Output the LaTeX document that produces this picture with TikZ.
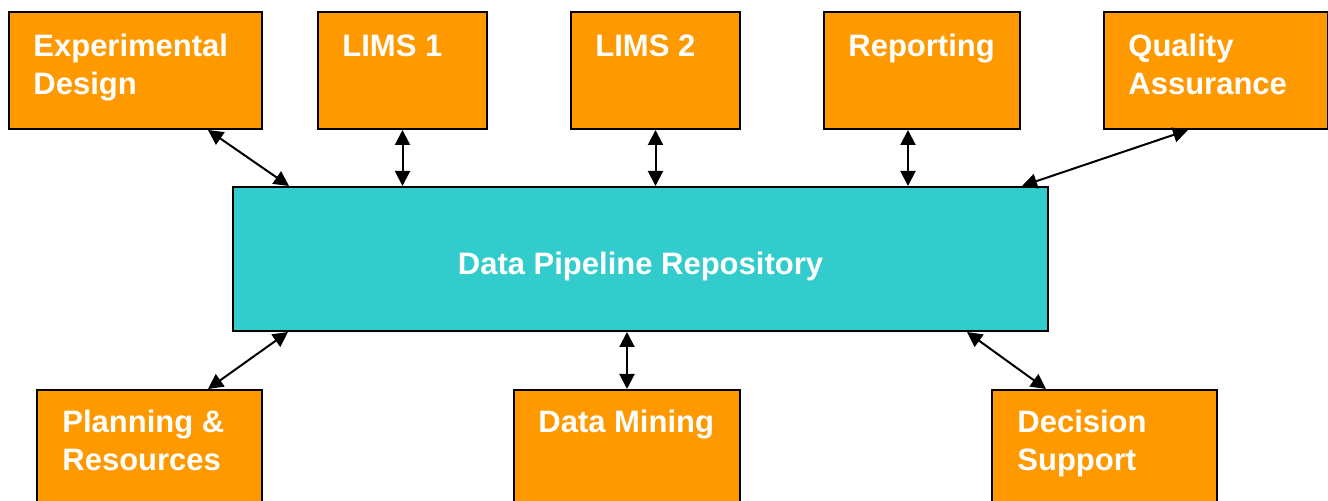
\documentclass[tikz,border=0pt]{standalone}
\usepackage{fontspec}
\setmainfont{Liberation Sans}
\usepackage{xcolor}
\usepackage{tikz}
\usetikzlibrary{arrows.meta, positioning, shadows}
\definecolor{myorange}{HTML}{FF9900}
\definecolor{myteal}{HTML}{33CCCC}
\tikzset{
srcbox/.style={
draw=black,
fill=myorange,
line width=1pt,
anchor=north west,
drop shadow={shadow xshift=0.7pt, shadow yshift=-0.7pt, fill=black!40, opacity=1},
inner sep=0pt
},
repobox/.style={
draw=black,
fill=myteal,
line width=1pt,
anchor=north west,
drop shadow={shadow xshift=0.7pt, shadow yshift=-0.7pt, fill=black!40, opacity=1},
inner sep=0pt
},
boxtext/.style={
anchor=north west,
inner sep=0pt,
align=left,
text=white
},
link/.style={
{Triangle[length=7.5pt,width=7.5pt]}-{Triangle[length=7.5pt,width=7.5pt]},
line width=1pt,
draw=black
}
}
\begin{document}
\begin{tikzpicture}[
x=0.5pt, y=-0.5pt,
font=\fontsize{15.5}{19}\selectfont\bfseries
]
\useasboundingbox (0,0) rectangle (1328,501);
\clip (0,0) rectangle (1328,501);

% sources along the top
\node[srcbox, minimum width=126.5pt, minimum height=58.5pt] (expd) at (8,11) {};
\node[srcbox, minimum width=84.5pt, minimum height=58.5pt] (lims1) at (317,11) {};
\node[srcbox, minimum width=84.5pt, minimum height=58.5pt] (lims2) at (570,11) {};
\node[srcbox, minimum width=98pt, minimum height=58.5pt] (report) at (823,11) {};
\node[srcbox, minimum width=112pt, minimum height=58.5pt] (qa) at (1103,11) {};

% central repository
\node[repobox, minimum width=407.5pt, minimum height=72pt] (repo) at (232,186) {};
\node[text=white, inner sep=0pt, yshift=-3.5pt] (repo-t) at (repo.center) {Data Pipeline Repository};

% consumers along the bottom
\node[srcbox, minimum width=112.5pt, minimum height=65pt] (plan) at (36,389) {};
\node[srcbox, minimum width=113pt, minimum height=65pt] (mining) at (513,389) {};
\node[srcbox, minimum width=112.5pt, minimum height=65pt] (decision) at (991,389) {};

\node[boxtext] (expd-t) at ([shift={(12.5pt,-11.5pt)}]expd.north west) {Experimental\\Design};
\node[boxtext] (lims1-t) at ([shift={(12.5pt,-11.5pt)}]lims1.north west) {LIMS 1};
\node[boxtext] (lims2-t) at ([shift={(12.5pt,-11.5pt)}]lims2.north west) {LIMS 2};
\node[boxtext] (report-t) at ([shift={(12.5pt,-11.5pt)}]report.north west) {Reporting};
\node[boxtext] (qa-t) at ([shift={(12.5pt,-11.5pt)}]qa.north west) {Quality\\Assurance};
\node[boxtext] (plan-t) at ([shift={(13pt,-10.5pt)}]plan.north west) {Planning \&\\Resources};
\node[boxtext] (mining-t) at ([shift={(12.5pt,-10.5pt)}]mining.north west) {Data Mining};
\node[boxtext] (decision-t) at ([shift={(13pt,-10.5pt)}]decision.north west) {Decision\\Support};

\draw[link] ([xshift=36.25pt]expd.south) -- ([xshift=28.5pt]repo.north west);
\draw[link] (lims1.south) -- (lims1.south |- repo.north);
\draw[link] (lims2.south) -- (lims2.south |- repo.north);
\draw[link] ([xshift=-7pt]report.south) -- ([xshift=-7pt]report.south |- repo.north);
\draw[link] ([xshift=-14pt]qa.south) -- ([xshift=-13.5pt]repo.north east);
\draw[link] ([xshift=28pt]repo.south west) -- ([xshift=29.25pt]plan.north);
\draw[link] (mining.north |- repo.south) -- (mining.north);
\draw[link] ([xshift=-41pt]repo.south east) -- ([xshift=-29.25pt]decision.north);

\end{tikzpicture}
\end{document}
